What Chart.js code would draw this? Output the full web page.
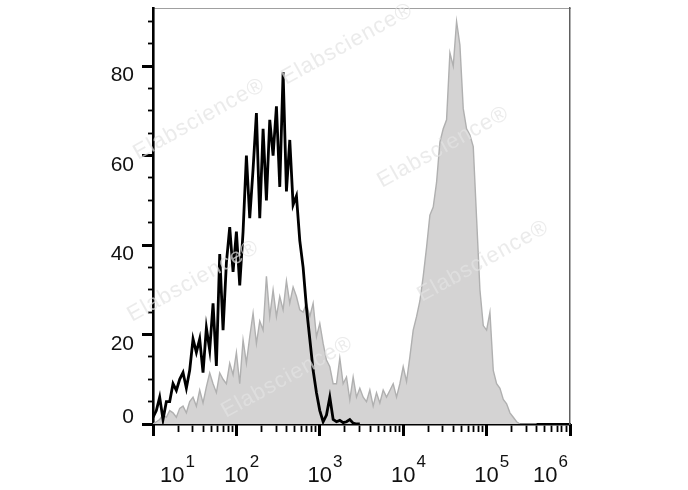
<!DOCTYPE html>
<html>
<head>
<meta charset="utf-8">
<script src="https://cdn.jsdelivr.net/npm/chart.js@4.4.0/dist/chart.umd.min.js"></script>
<style>
  html, body { margin: 0; padding: 0; background: #fff; }
  #wrap { width: 688px; height: 490px; }
</style>
</head>
<body>
<div id="wrap"><canvas id="histChart" width="688" height="490"></canvas></div>
<script>
// log10 of the fluorescence channel for each histogram bin
const binLog = [
  1.00, 1.04, 1.08, 1.12, 1.16, 1.20, 1.24, 1.28, 1.32, 1.36,
  1.40, 1.44, 1.48, 1.52, 1.56, 1.60, 1.64, 1.68, 1.72, 1.76,
  1.80, 1.84, 1.88, 1.92, 1.96, 2.00, 2.04, 2.08, 2.12, 2.16,
  2.20, 2.24, 2.28, 2.32, 2.36, 2.40, 2.44, 2.48, 2.52, 2.56,
  2.60, 2.64, 2.68, 2.72, 2.76, 2.80, 2.84, 2.88, 2.92, 2.96,
  3.00, 3.04, 3.08, 3.12, 3.16, 3.20, 3.24, 3.28, 3.32, 3.36,
  3.40, 3.44, 3.48, 3.52, 3.56, 3.60, 3.64, 3.68, 3.72, 3.76,
  3.80, 3.84, 3.88, 3.92, 3.96, 4.00, 4.04, 4.08, 4.12, 4.16,
  4.20, 4.24, 4.28, 4.32, 4.36, 4.40, 4.44, 4.48, 4.52, 4.56,
  4.60, 4.64, 4.68, 4.72, 4.76, 4.80, 4.84, 4.88, 4.92, 4.96,
  5.00, 5.04, 5.08, 5.12, 5.16, 5.20, 5.24, 5.28, 5.32, 5.36,
  5.40, 5.44, 5.48, 5.52, 5.56, 5.60
];

// black open histogram (control)
const controlCounts = [
  1.5, 3, 6, 1, 5, 5, 9, 7.5, 10, 11.5,
  8, 12, 19, 16, 19, 11.5, 21.5, 16.5, 27, 13,
  38, 21, 36, 44, 34, 43, 31, 43, 60, 46,
  57, 69.5, 46, 66, 50, 68, 60, 71, 53, 78.7,
  52, 63.5, 49, 51, 41, 35, 26, 19, 12, 7,
  3, 0.5, 2, 6, 1, 0.5, 0.8, 0.3, 0.5, 1,
  0.2, 0, 0
];

// grey filled histogram (stained)
const stainedCounts = [
  0, 0.5, 1, 2, 1.5, 3, 2.5, 1.5, 3.5, 4,
  2.5, 5, 6, 4, 7.6, 4.7, 8.3, 11.4, 9, 7,
  11.4, 10, 9, 13.6, 11, 16, 9, 18.8, 13.6, 19.5,
  24.8, 18, 23, 21, 33, 24, 30, 24, 28.5, 25.5,
  32, 27, 30.6, 28.5, 25.5, 25, 27, 24, 27, 19.5,
  22.5, 18, 14.3, 12.8, 9, 9, 14.7, 9, 10.5, 5.4,
  10.5, 6, 8, 6, 5, 7.6, 4, 7, 4.7, 7.6,
  6, 7.5, 9, 6, 9, 12.8, 9.5, 15, 21, 24,
  27.5, 33, 39.5, 46.7, 48.5, 54, 63, 66, 68, 83,
  80, 90, 84.7, 70.5, 66, 64.6, 62, 46, 30, 22,
  21, 25, 12, 9, 8, 5.5, 4.5, 2.5, 1.5, 0.5,
  0, 0, 0, 0, 0, 0
];

const xTickExp = [1, 2, 3, 4, 5, 6];
const xMinorSig = [2, 3, 4, 5, 6, 7, 8, 9];
const yTicks = [0, 20, 40, 60, 80];
const yMinorTicks = [0, 5, 10, 15, 20, 25, 30, 35, 40, 45, 50, 55, 60, 65, 70, 75, 80, 85, 90];
const wmText = "Elabscience\u00AE";
const wmSpots = [[138, 160], [286, 85], [382, 188], [422, 302], [132, 322], [226, 418]];

const toPoints = (counts) => counts.map((c, i) => ({ x: Math.pow(10, binLog[i]), y: c }));

const xMinorValues = [];
xTickExp.slice(0, -1).forEach((e) => {
  xMinorSig.forEach((s) => xMinorValues.push(s * Math.pow(10, e)));
});

const FONT = '"Liberation Sans", Arial, sans-serif';

// tick labels: y labels hang under their tick, x labels are 10 with a raised exponent
const axisLabels = {
  id: "axisLabels",
  afterDraw(chart) {
    const { ctx, chartArea, scales } = chart;
    ctx.save();
    ctx.fillStyle = "#111";
    ctx.textBaseline = "alphabetic";

    ctx.font = "21px " + FONT;
    ctx.textAlign = "right";
    yTicks.forEach((v) => {
      const py = scales.y.getPixelForValue(v);
      const base = Math.min(py + 15, chartArea.bottom - 1);
      ctx.fillText(String(v), chartArea.left - 19, base);
    });

    ctx.textAlign = "left";
    xTickExp.forEach((e) => {
      const px = scales.xMajor.getPixelForValue(Math.pow(10, e));
      ctx.font = "22px " + FONT;
      const wb = ctx.measureText("10").width;
      ctx.font = "17px " + FONT;
      const we = ctx.measureText(String(e)).width;
      const total = wb + 1 + we;
      let left = px - wb / 2;
      left = Math.max(left, chartArea.left + 7);
      left = Math.min(left, chartArea.right - 2 - total);
      ctx.font = "22px " + FONT;
      ctx.fillText("10", left, chartArea.bottom + 58);
      ctx.font = "17px " + FONT;
      ctx.fillText(String(e), left + wb + 1, chartArea.bottom + 43);
    });
    ctx.restore();
  },
};

const watermark = {
  id: "watermark",
  afterDatasetsDraw(chart) {
    const { ctx } = chart;
    ctx.save();
    ctx.font = "22px " + FONT;
    ctx.fillStyle = "rgba(226,226,226,0.7)";
    ctx.letterSpacing = "1px";
    ctx.textAlign = "left";
    wmSpots.forEach(([x, y]) => {
      ctx.save();
      ctx.translate(x, y);
      ctx.rotate((-29 * Math.PI) / 180);
      ctx.fillText(wmText, 0, 0);
      ctx.restore();
    });
    ctx.restore();
  },
};

const ctx = document.getElementById("histChart").getContext("2d");

new Chart(ctx, {
  type: "line",
  data: {
    datasets: [
      {
        label: "control",
        data: toPoints(controlCounts),
        xAxisID: "x",
        yAxisID: "y",
        borderColor: "#000",
        borderWidth: 2.8,
        pointRadius: 0,
        fill: false,
        tension: 0,
        order: 0,
      },
      {
        label: "stained",
        data: toPoints(stainedCounts),
        xAxisID: "x",
        yAxisID: "y",
        borderColor: "#b0b0b0",
        borderWidth: 1.4,
        backgroundColor: "rgb(212,211,211)",
        pointRadius: 0,
        fill: "origin",
        tension: 0,
        order: 1,
      },
    ],
  },
  options: {
    responsive: false,
    animation: false,
    events: [],
    layout: { padding: { left: 133, right: 118, top: 8, bottom: 46 } },
    plugins: { legend: { display: false }, tooltip: { enabled: false } },
    scales: {
      x: {
        type: "logarithmic",
        position: "bottom",
        min: 10,
        max: 1e6,
        afterBuildTicks: (s) => { s.ticks = xMinorValues.map((v) => ({ value: v })); },
        afterFit: (s) => { s.height = 20; },
        ticks: { display: false, autoSkip: false },
        grid: { drawOnChartArea: false, tickLength: 8, tickWidth: 1.8, tickColor: "#000" },
        border: { display: true, color: "#000", width: 2.6 },
      },
      xMajor: {
        type: "logarithmic",
        axis: "x",
        position: { y: 0 },
        min: 10,
        max: 1e6,
        afterBuildTicks: (s) => { s.ticks = xTickExp.map((e) => ({ value: Math.pow(10, e) })); },
        ticks: { display: false, autoSkip: false },
        grid: { drawOnChartArea: false, tickLength: 12, tickWidth: 3, tickColor: "#000" },
        border: { display: false },
      },
      xTop: {
        type: "linear",
        axis: "x",
        position: "top",
        afterFit: (s) => { s.height = 0; },
        ticks: { display: false },
        grid: { display: false, drawTicks: false },
        border: { display: true, color: "#a0a0a0", width: 1 },
      },
      y: {
        type: "linear",
        position: "left",
        min: 0,
        max: 93,
        afterBuildTicks: (s) => { s.ticks = yTicks.map((v) => ({ value: v })); },
        afterFit: (s) => { s.width = 20; },
        ticks: { display: false },
        grid: { drawOnChartArea: false, tickLength: 11, tickWidth: 3, tickColor: "#000" },
        border: { display: true, color: "#000", width: 2.6 },
      },
      yMinor: {
        type: "linear",
        axis: "y",
        position: { x: 10 },
        min: 0,
        max: 93,
        afterBuildTicks: (s) => { s.ticks = yMinorTicks.map((v) => ({ value: v })); },
        ticks: { display: false },
        grid: { drawOnChartArea: false, tickLength: 5, tickWidth: 1.8, tickColor: "#000" },
        border: { display: false },
      },
      yRight: {
        type: "linear",
        axis: "y",
        position: "right",
        afterFit: (s) => { s.width = 0; },
        ticks: { display: false },
        grid: { display: false, drawTicks: false },
        border: { display: true, color: "#606060", width: 1.5 },
      },
    },
  },
  plugins: [watermark, axisLabels],
});
</script>
</body>
</html>
